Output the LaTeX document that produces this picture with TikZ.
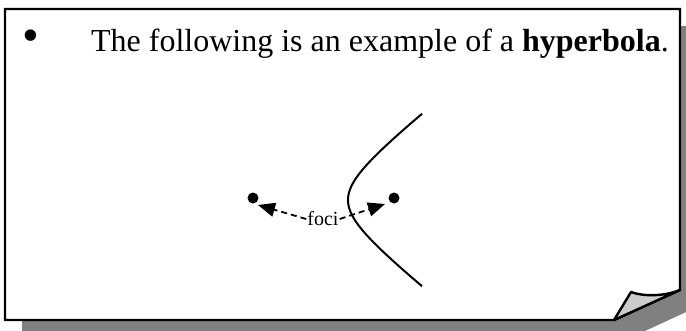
\documentclass[tikz,border=0pt]{standalone}
\usepackage{fontspec}
\setmainfont{Liberation Serif}
\usetikzlibrary{arrows.meta}
\definecolor{shadowgray}{HTML}{808080}
\definecolor{curlgray}{HTML}{CCCCCC}
\tikzset{
  pageline/.style={line width=2.4pt, line join=miter},
  focusdot/.style={circle, fill=black, inner sep=0pt, minimum size=11pt},
  fociarrow/.style={line width=1.8pt, dash pattern=on 6pt off 4pt, -{Triangle[length=17pt,width=14pt]}},
}
\begin{document}
\begin{tikzpicture}[x=1pt,y=-1pt]
\useasboundingbox (0,0) rectangle (686,330);
\begin{scope}
\clip (0,0) rectangle (686,330);
\fill[shadowgray] (22,26) -- (697,26) -- (697,307) -- (632,337) -- (22,337) -- cycle;
\end{scope}
\draw[pageline, fill=white] (5,9) -- (680,9) -- (680,290) -- (614,320) -- (5,320) -- cycle;
\draw[pageline, fill=curlgray, line join=round] (614,320) -- (631,292) .. controls (645,297) and (665,296) .. (680,290) -- cycle;
\node[anchor=center, inner sep=0pt, font=\fontsize{32}{38}\selectfont] (bullet) at (31,41) {\scalebox{1.5}{\textbullet}};
\node[anchor=base east, inner sep=0pt, font=\fontsize{32}{38}\selectfont] (title) at (669,51) {The following is an example of a \textbf{hyperbola}.};
\draw[line width=2pt] plot[domain=-1.65:1.65, samples=80, smooth] ({304.4+43.6*(exp(\x)+exp(-\x))/2}, {200+34.4*(exp(\x)-exp(-\x))/2});
\node[focusdot] (f1) at (253,198) {};
\node[focusdot] (f2) at (394,198) {};
\node[inner sep=1pt, font=\fontsize{20}{24}\selectfont] (foci) at (323,219) {foci};
\draw[fociarrow] (foci.west) -- ([shift={(5,7)}]f1.center);
\draw[fociarrow] (foci.east) -- ([shift={(-9,6)}]f2.center);
\end{tikzpicture}
\end{document}
